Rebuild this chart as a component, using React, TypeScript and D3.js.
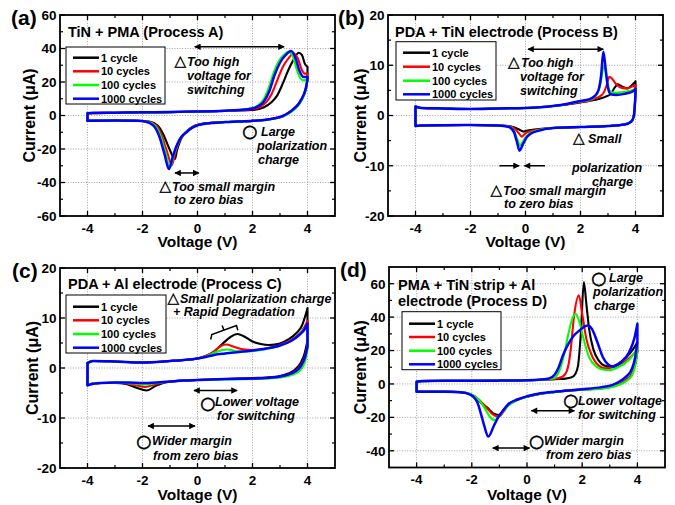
import React from "react";
import * as d3 from "d3";

type Pt = [number, number];

// Legend entries and trace colours (shared by all four panels)
const cycleLabels = ["1 cycle", "10 cycles", "100 cycles", "1000 cycles"];
const cycleColors = ["#000000", "#ff0000", "#00ff00", "#0000ff"];

// Axis ticks
const voltTicks = [-4, -2, 0, 2, 4];
const voltMinor = [-3, -1, 1, 3];
const currTicksA = [-60, -40, -20, 0, 20, 40, 60];
const currMinorA = [-50, -30, -10, 10, 30, 50];
const currTicksB = [-20, -10, 0, 10, 20];
const currMinorB = [-15, -5, 5, 15];
const currTicksD = [-40, -20, 0, 20, 40, 60];
const currMinorD = [-30, -10, 10, 30, 50];

// Each loop: forward sweep -4 V -> 4 V, then reverse sweep 4 V -> -4 V  (V, µA)
// (a) TiN + PMA
const procA_1: Pt[] = [
  [-4, 1.2], [-3.8, 1.4], [-3, 1.6], [-2, 1.8], [-1, 2.0], [0, 2.3], [1, 2.7], [1.5, 3.0], [2, 3.3], [2.4, 4.8], [2.7, 8], [2.9, 12], [3.1, 19], [3.3, 27], [3.5, 33.5], [3.68, 37.5], [3.8, 36], [3.9, 31], [4, 29],
  [4, 21], [3.95, 16.5], [3.85, 11.5], [3.7, 7], [3.5, 3.8], [3.3, 1.4], [3.1, -0.4], [2.9, -1.4], [2.5, -2.5], [2, -3.2], [1.5, -3.6], [1, -3.9], [0.5, -4.4], [0, -5.6], [-0.2, -7], [-0.4, -9.5], [-0.55, -12.5], [-0.65, -16], [-0.75, -21], [-0.82, -26], [-1.02, -20], [-1.25, -11], [-1.45, -6], [-1.75, -3.6], [-2.2, -3.1], [-3, -3.0], [-3.8, -3.0], [-4, -3.1],
];
const procA_10: Pt[] = [
  [-4, 1.2], [-3.8, 1.4], [-3, 1.6], [-2, 1.8], [-1, 2.0], [0, 2.3], [1, 2.8], [1.5, 3.2], [2, 3.8], [2.3, 5.5], [2.5, 8], [2.7, 13], [2.9, 21], [3.1, 29], [3.3, 34], [3.5, 37], [3.65, 34], [3.8, 27], [3.9, 25], [4, 25],
  [4, 22], [3.95, 17], [3.85, 12], [3.7, 7.5], [3.5, 4], [3.3, 1.5], [3.1, -0.3], [2.9, -1.3], [2.5, -2.5], [2, -3.2], [1.5, -3.6], [1, -3.9], [0.5, -4.4], [0, -5.7], [-0.2, -7.2], [-0.4, -9.7], [-0.58, -13], [-0.7, -17], [-0.82, -23], [-0.93, -29.5], [-1.1, -22], [-1.3, -12], [-1.5, -6], [-1.8, -3.6], [-2.2, -3.1], [-3, -3.0], [-3.8, -3.0], [-4, -3.1],
];
const procA_100: Pt[] = [
  [-4, 1.3], [-3.8, 1.5], [-3, 1.6], [-2, 1.8], [-1, 2.0], [0, 2.3], [1, 2.8], [1.5, 3.3], [2, 4.5], [2.2, 6], [2.4, 9.5], [2.6, 17], [2.8, 27], [3.0, 33.5], [3.2, 37], [3.3, 38], [3.45, 36], [3.6, 28], [3.75, 22], [3.85, 21], [4, 21.5],
  [4, 21], [3.95, 17], [3.87, 12], [3.73, 7.5], [3.55, 4], [3.35, 1.5], [3.15, -0.3], [2.95, -1.3], [2.5, -2.6], [2, -3.3], [1.5, -3.7], [1, -4.0], [0.5, -4.5], [0, -5.8], [-0.2, -7.3], [-0.4, -9.8], [-0.6, -13], [-0.73, -17.5], [-0.87, -24], [-1.0, -31], [-1.15, -23], [-1.35, -12], [-1.55, -6], [-1.85, -3.6], [-2.2, -3.1], [-3, -3.0], [-3.8, -3.0], [-4, -3.1],
];
const procA_1000: Pt[] = [
  [-4, 1.4], [-3.8, 1.6], [-3, 1.7], [-2, 1.9], [-1, 2.1], [0, 2.4], [1, 2.9], [1.5, 3.3], [2, 4.2], [2.2, 5.5], [2.4, 8], [2.6, 14], [2.8, 24], [3.0, 31.5], [3.2, 36], [3.4, 38.5], [3.55, 35], [3.7, 27], [3.85, 23], [4, 23],
  [4, 22], [3.95, 17], [3.85, 12], [3.7, 7.5], [3.5, 4], [3.3, 1.5], [3.1, -0.3], [2.9, -1.3], [2.5, -2.5], [2, -3.2], [1.5, -3.6], [1, -3.9], [0.5, -4.5], [0, -5.9], [-0.2, -7.4], [-0.4, -10], [-0.62, -13.5], [-0.76, -18], [-0.9, -24.5], [-1.04, -32], [-1.2, -23], [-1.4, -12], [-1.6, -6], [-1.9, -3.6], [-2.2, -3.1], [-3, -3.0], [-3.8, -3.1], [-4, -3.2],
];

// (b) PDA + TiN electrode
const procB_1: Pt[] = [
  [-4, 1.8], [-3.8, 1.5], [-3, 1.4], [-2, 1.3], [-1, 1.4], [0, 1.5], [1, 1.9], [1.5, 2.2], [2, 2.6], [2.3, 2.9], [2.6, 3.2], [2.9, 3.7], [3.1, 4.3], [3.25, 5.6], [3.35, 6.2], [3.5, 5.8], [3.7, 5.4], [3.9, 6.2], [4, 6.8],
  [4, 4.5], [3.97, 1.5], [3.93, -0.3], [3.85, -1.2], [3.6, -1.8], [3, -2.1], [2, -2.3], [1, -2.5], [0.5, -2.7], [0.2, -2.9], [0, -3.1], [-0.07, -3.2], [-0.2, -2.9], [-0.4, -2.4], [-0.6, -2.1], [-1, -2.0], [-2, -1.9], [-3, -1.95], [-3.8, -2.0], [-4, -2.1],
];
const procB_10: Pt[] = [
  [-4, 1.8], [-3.8, 1.5], [-3, 1.4], [-2, 1.3], [-1, 1.4], [0, 1.5], [1, 1.9], [1.5, 2.2], [2, 2.7], [2.3, 2.9], [2.5, 3.3], [2.7, 3.8], [2.85, 4.6], [2.95, 6], [3.05, 7.7], [3.15, 7.3], [3.3, 6.2], [3.5, 5.5], [3.7, 5.4], [3.9, 5.8], [4, 6.0],
  [4, 4.5], [3.97, 1.5], [3.93, -0.3], [3.85, -1.2], [3.6, -1.8], [3, -2.1], [2, -2.3], [1, -2.5], [0.5, -2.8], [0.2, -3.1], [0, -3.5], [-0.13, -4.2], [-0.25, -3.5], [-0.4, -2.6], [-0.6, -2.15], [-1, -2.0], [-2, -1.9], [-3, -1.95], [-3.8, -2.0], [-4, -2.1],
];
const procB_100: Pt[] = [
  [-4, 1.8], [-3.8, 1.5], [-3, 1.4], [-2, 1.3], [-1, 1.4], [0, 1.5], [1, 1.9], [1.5, 2.3], [2, 2.8], [2.3, 3.1], [2.5, 3.6], [2.65, 4.8], [2.75, 7], [2.85, 10], [2.95, 7.5], [3.05, 5], [3.2, 4.5], [3.5, 4.6], [3.8, 4.9], [4, 5.3],
  [4, 4.5], [3.97, 1.5], [3.93, -0.3], [3.85, -1.2], [3.6, -1.8], [3, -2.1], [2, -2.3], [1, -2.5], [0.5, -2.9], [0.2, -3.4], [0.05, -4.0], [-0.1, -5.2], [-0.2, -6.0], [-0.3, -4.7], [-0.42, -3.0], [-0.6, -2.2], [-1, -2.0], [-2, -1.9], [-3, -1.95], [-3.8, -2.0], [-4, -2.1],
];
const procB_1000: Pt[] = [
  [-4, 1.8], [-3.8, 1.5], [-3, 1.4], [-2, 1.3], [-1, 1.4], [0, 1.5], [1, 1.9], [1.5, 2.3], [2, 2.9], [2.3, 3.2], [2.5, 3.8], [2.65, 5], [2.75, 8], [2.83, 12.7], [2.92, 9], [3.0, 5.5], [3.1, 4.2], [3.3, 4.1], [3.6, 4.3], [3.9, 4.8], [4, 5.3],
  [4, 4.5], [3.97, 1.5], [3.93, -0.3], [3.85, -1.2], [3.6, -1.8], [3, -2.1], [2, -2.3], [1, -2.5], [0.5, -3.0], [0.2, -3.6], [0.05, -4.3], [-0.1, -5.8], [-0.22, -7.0], [-0.3, -5.5], [-0.42, -3.3], [-0.6, -2.3], [-1, -2.0], [-2, -1.9], [-3, -1.95], [-3.8, -2.0], [-4, -2.1],
];

// (c) PDA + Al electrode
const procC_1: Pt[] = [
  [-4, 1.0], [-3.8, 1.4], [-3, 1.3], [-2, 1.1], [-1, 1.4], [-0.5, 1.6], [0, 1.9], [0.3, 2.4], [0.6, 3.3], [0.9, 4.8], [1.2, 6.2], [1.45, 6.8], [1.7, 6.3], [2.0, 5.3], [2.3, 4.8], [2.6, 4.6], [3.0, 4.9], [3.3, 5.7], [3.6, 7.0], [3.8, 8.5], [3.95, 11], [4, 12],
  [4, 5.5], [3.9, 3], [3.75, 1], [3.55, -0.3], [3.3, -1.1], [3, -1.6], [2.5, -1.9], [2, -2.0], [1, -2.2], [0, -2.4], [-0.5, -2.5], [-1, -2.7], [-1.5, -3.5], [-1.85, -4.5], [-2.2, -4.0], [-2.6, -3.2], [-3, -3.0], [-3.5, -3.0], [-3.9, -3.2], [-4, -3.4],
];
const procC_10: Pt[] = [
  [-4, 1.0], [-3.8, 1.4], [-3, 1.3], [-2, 1.1], [-1, 1.4], [-0.5, 1.6], [0, 1.9], [0.3, 2.4], [0.6, 3.3], [0.85, 4.4], [1.05, 4.7], [1.3, 4.3], [1.6, 3.8], [2.0, 3.6], [2.5, 3.9], [3.0, 4.6], [3.4, 5.6], [3.7, 6.8], [3.9, 8.3], [4, 9.4],
  [4, 4.5], [3.9, 2.2], [3.75, 0.5], [3.55, -0.6], [3.3, -1.3], [3, -1.7], [2.5, -2.0], [2, -2.1], [1, -2.2], [0, -2.4], [-0.5, -2.5], [-1, -2.7], [-1.5, -3.2], [-1.9, -3.8], [-2.3, -3.4], [-2.7, -3.0], [-3, -2.9], [-3.5, -3.0], [-3.9, -3.2], [-4, -3.4],
];
const procC_100: Pt[] = [
  [-4, 1.0], [-3.8, 1.4], [-3, 1.3], [-2, 1.1], [-1, 1.4], [-0.5, 1.6], [0, 1.9], [0.3, 2.3], [0.6, 3.0], [0.9, 3.6], [1.1, 3.7], [1.4, 3.4], [1.8, 3.3], [2.2, 3.5], [2.7, 4.0], [3.2, 4.9], [3.6, 6.2], [3.85, 7.6], [4, 8.6],
  [4, 3.8], [3.92, 1.5], [3.8, 0], [3.6, -1.0], [3.3, -1.6], [3, -1.9], [2.5, -2.1], [2, -2.2], [1, -2.3], [0, -2.4], [-0.5, -2.5], [-1, -2.7], [-1.5, -3.0], [-1.9, -3.3], [-2.3, -3.1], [-2.8, -2.9], [-3.5, -3.0], [-3.9, -3.2], [-4, -3.4],
];
const procC_1000: Pt[] = [
  [-4, 1.0], [-3.8, 1.4], [-3, 1.3], [-2, 1.1], [-1, 1.4], [-0.5, 1.6], [0, 1.9], [0.3, 2.2], [0.6, 2.6], [1, 2.9], [1.5, 3.2], [2, 3.5], [2.5, 3.9], [3, 4.5], [3.4, 5.4], [3.7, 6.6], [3.9, 7.8], [4, 8.9],
  [4, 4.2], [3.9, 2.0], [3.75, 0.3], [3.55, -0.7], [3.3, -1.3], [3, -1.7], [2.5, -2.0], [2, -2.1], [1, -2.2], [0, -2.4], [-0.5, -2.5], [-1, -2.7], [-1.5, -2.9], [-2, -3.0], [-2.5, -2.9], [-3, -2.9], [-3.5, -3.0], [-3.9, -3.3], [-4, -3.5],
];

// (d) PMA + TiN strip + Al electrode
const procD_1: Pt[] = [
  [-4, 1.3], [-3.8, 1.7], [-3, 1.9], [-2, 1.9], [-1, 2.0], [0, 2.2], [0.5, 2.5], [1, 2.9], [1.4, 3.2], [1.6, 3.8], [1.75, 6], [1.85, 11], [1.95, 30], [2.06, 61], [2.15, 48], [2.25, 33], [2.4, 21], [2.6, 14], [2.8, 11], [3.0, 10.3], [3.3, 12], [3.6, 16], [3.85, 21], [4, 25],
  [4, 20], [3.92, 12], [3.8, 6], [3.6, 2.5], [3.35, 0], [3.1, -1.5], [2.7, -2.6], [2, -3.4], [1, -4.8], [0.5, -5.8], [0, -7.6], [-0.35, -9.5], [-0.67, -12.5], [-0.85, -16], [-0.97, -18.6], [-1.2, -17.8], [-1.45, -14], [-1.65, -11.5], [-1.85, -8.5], [-2.05, -6.3], [-2.4, -5], [-3, -4.6], [-4, -4.6],
];
const procD_10: Pt[] = [
  [-4, 1.3], [-3.8, 1.7], [-3, 1.9], [-2, 1.9], [-1, 2.0], [0, 2.2], [0.5, 2.5], [1, 2.9], [1.1, 3.3], [1.3, 4.5], [1.45, 8], [1.58, 20], [1.7, 40], [1.88, 53], [2.0, 42], [2.15, 27], [2.35, 17], [2.6, 11], [2.85, 9.3], [3.2, 10.5], [3.6, 14], [3.9, 18.5], [4, 20],
  [4, 19], [3.92, 12], [3.8, 6], [3.6, 2.5], [3.35, 0], [3.1, -1.5], [2.7, -2.6], [2, -3.4], [1, -4.8], [0.5, -5.8], [0, -7.6], [-0.35, -9.5], [-0.67, -12.5], [-0.85, -16.5], [-1.03, -19.6], [-1.25, -18], [-1.5, -13.5], [-1.7, -10], [-1.9, -7.3], [-2.1, -5.8], [-2.4, -5], [-3, -4.6], [-4, -4.6],
];
const procD_100: Pt[] = [
  [-4, 1.3], [-3.8, 1.7], [-3, 1.9], [-2, 1.9], [-1, 2.0], [0, 2.2], [0.5, 2.5], [0.8, 2.9], [1.0, 3.5], [1.1, 5.5], [1.2, 9], [1.35, 18], [1.5, 30], [1.62, 38], [1.76, 42], [1.9, 37], [2.05, 27], [2.25, 16], [2.5, 10.5], [2.8, 8.5], [3.0, 8.3], [3.3, 10], [3.7, 14.5], [4, 21],
  [4, 20], [3.92, 11], [3.8, 5], [3.6, 1.8], [3.35, -0.5], [3.1, -1.8], [2.7, -2.8], [2, -3.5], [1, -4.9], [0.5, -5.9], [0, -7.7], [-0.35, -9.7], [-0.67, -12.8], [-0.9, -17], [-1.18, -21.6], [-1.35, -19.5], [-1.55, -14], [-1.75, -9.5], [-1.95, -6.8], [-2.2, -5.3], [-2.5, -4.8], [-3, -4.6], [-4, -4.7],
];
const procD_1000: Pt[] = [
  [-4, 1.3], [-3.8, 1.7], [-3, 1.9], [-2, 1.9], [-1, 2.0], [0, 2.2], [0.5, 2.6], [0.8, 3.3], [1.0, 5.5], [1.15, 10], [1.3, 17], [1.5, 24], [1.7, 29], [1.9, 32], [2.05, 34], [2.2, 35], [2.35, 33], [2.55, 25], [2.75, 16], [2.95, 11.5], [3.1, 10.5], [3.4, 13], [3.7, 19], [3.9, 28], [4, 36],
  [4, 26], [3.92, 16], [3.8, 9], [3.6, 4.5], [3.35, 1.5], [3.1, -0.5], [2.7, -1.9], [2, -3.2], [1, -4.6], [0.5, -5.6], [0, -7.4], [-0.35, -9.3], [-0.67, -12], [-0.85, -15.5], [-1.03, -19.5], [-1.2, -25], [-1.4, -31.5], [-1.55, -25], [-1.65, -19], [-1.8, -11], [-1.95, -7.5], [-2.2, -5.5], [-2.5, -4.8], [-3, -4.6], [-4, -4.7],
];

const FONT = "Arial, 'Liberation Sans', Helvetica, sans-serif";
const SYM = "'DejaVu Sans', sans-serif";

type Scale = d3.ScaleLinear<number, number>;

function loopPath(pts: Pt[], x: Scale, y: Scale): string {
  const k = pts.findIndex((p) => p[0] >= 4);
  const fwd = pts.slice(0, k + 1);
  const rev = pts.slice(k + 1).reverse();
  const line = d3
    .line<Pt>()
    .x((d) => x(d[0]))
    .y((d) => y(d[1]))
    .curve(d3.curveMonotoneX);
  const fEnd = fwd[fwd.length - 1];
  const rEnd = rev[rev.length - 1];
  return (
    (line(fwd) || "") +
    (line(rev) || "") +
    `M${x(fEnd[0])},${y(fEnd[1])}L${x(rEnd[0])},${y(rEnd[1])}` +
    `M${x(rev[0][0])},${y(rev[0][1])}L${x(fwd[0][0])},${y(fwd[0][1])}`
  );
}

interface LegendBox {
  x: number;
  y: number;
  w: number;
  h: number;
  rows: number[];
  x0: number;
  x1: number;
  tx: number;
}

interface PanelProps {
  tag: string;
  tagX: number;
  tagY: number;
  left: number;
  right: number;
  top: number;
  bottom: number;
  yDomain: [number, number];
  yTicks: number[];
  yMinor: number[];
  loops: Pt[][];
  yLabelX: number;
  xLabelY: number;
  legend: LegendBox;
  notes: (x: Scale, y: Scale) => React.ReactNode;
}

function Panel(p: PanelProps) {
  const x = d3.scaleLinear().domain([-5, 5]).range([p.left, p.right]);
  const y = d3.scaleLinear().domain(p.yDomain).range([p.bottom, p.top]);
  const gridX = voltTicks;
  const gridY = p.yTicks.filter((t) => t > p.yDomain[0] && t < p.yDomain[1]);
  const cx = (p.left + p.right) / 2;
  const cy = (p.top + p.bottom) / 2;
  const major = 5;
  const minor = 3;
  return (
    <g>
      {/* dotted grid */}
      {gridX.map((t) => (
        <line key={"gx" + t} x1={x(t)} x2={x(t)} y1={p.top} y2={p.bottom} stroke="#8a8a8a" strokeWidth={0.8} strokeDasharray="1,1.6" />
      ))}
      {gridY.map((t) => (
        <line key={"gy" + t} x1={p.left} x2={p.right} y1={y(t)} y2={y(t)} stroke="#8a8a8a" strokeWidth={0.8} strokeDasharray="1,1.6" />
      ))}
      {/* traces */}
      {p.loops.map((pts, i) => (
        <path
          key={"c" + i}
          d={loopPath(pts, x, y)}
          fill="none"
          stroke={cycleColors[i]}
          strokeWidth={i === 3 ? 2.5 : 2.1}
          strokeLinejoin="round"
          strokeLinecap="round"
        />
      ))}
      {/* legend */}
      <rect x={p.legend.x} y={p.legend.y} width={p.legend.w} height={p.legend.h} fill="#fff" stroke="#000" strokeWidth={1} />
      {cycleLabels.map((lab, i) => (
        <g key={"l" + i}>
          <line x1={p.legend.x0} x2={p.legend.x1} y1={p.legend.rows[i]} y2={p.legend.rows[i]} stroke={cycleColors[i]} strokeWidth={2.5} />
          <text x={p.legend.tx} y={p.legend.rows[i] + 4} fontFamily={FONT} fontWeight="bold" fontSize={11} fill="#000">
            {lab}
          </text>
        </g>
      ))}
      {p.notes(x, y)}
      {/* frame and ticks */}
      <rect x={p.left} y={p.top} width={p.right - p.left} height={p.bottom - p.top} fill="none" stroke="#000" strokeWidth={1.8} />
      {voltTicks.map((t) => (
        <g key={"xt" + t}>
          <line x1={x(t)} x2={x(t)} y1={p.bottom} y2={p.bottom - major} stroke="#000" strokeWidth={1.3} />
          <line x1={x(t)} x2={x(t)} y1={p.top} y2={p.top + major} stroke="#000" strokeWidth={1.3} />
          <text x={x(t)} y={p.bottom + 16.5} textAnchor="middle" fontFamily={FONT} fontWeight="bold" fontSize={13.5}>
            {t}
          </text>
        </g>
      ))}
      {voltMinor.map((t) => (
        <g key={"xm" + t}>
          <line x1={x(t)} x2={x(t)} y1={p.bottom} y2={p.bottom - minor} stroke="#000" strokeWidth={1.2} />
          <line x1={x(t)} x2={x(t)} y1={p.top} y2={p.top + minor} stroke="#000" strokeWidth={1.2} />
        </g>
      ))}
      {p.yTicks.map((t) => (
        <g key={"yt" + t}>
          <line x1={p.left} x2={p.left + major} y1={y(t)} y2={y(t)} stroke="#000" strokeWidth={1.3} />
          <line x1={p.right} x2={p.right - major} y1={y(t)} y2={y(t)} stroke="#000" strokeWidth={1.3} />
          <text x={p.left - 3.5} y={y(t) + 4.8} textAnchor="end" fontFamily={FONT} fontWeight="bold" fontSize={13.5}>
            {t}
          </text>
        </g>
      ))}
      {p.yMinor.map((t) => (
        <g key={"ym" + t}>
          <line x1={p.left} x2={p.left + minor} y1={y(t)} y2={y(t)} stroke="#000" strokeWidth={1.2} />
          <line x1={p.right} x2={p.right - minor} y1={y(t)} y2={y(t)} stroke="#000" strokeWidth={1.2} />
        </g>
      ))}
      {/* axis titles */}
      <text x={cx} y={p.xLabelY} textAnchor="middle" fontFamily={FONT} fontWeight="bold" fontSize={15.5}>
        Voltage (V)
      </text>
      <text
        transform={`translate(${p.yLabelX},${cy}) rotate(-90)`}
        textAnchor="middle"
        fontFamily={FONT}
        fontWeight="bold"
        fontSize={16}
      >
        Current (μA)
      </text>
      <text x={p.tagX} y={p.tagY} fontFamily={FONT} fontWeight="bold" fontSize={21}>
        {p.tag}
      </text>
    </g>
  );
}

function Note({ x, y, children }: { x: number; y: number; children: React.ReactNode }) {
  return (
    <text x={x} y={y} fontFamily={FONT} fontWeight="bold" fontStyle="italic" fontSize={12.5} fill="#000">
      {children}
    </text>
  );
}

function Tri({ x, y }: { x: number; y: number }) {
  return (
    <text x={x} y={y} fontFamily={SYM} fontSize={15} fill="#000" stroke="#000" strokeWidth={0.4}>
      △
    </text>
  );
}

function Circ({ x, y }: { x: number; y: number }) {
  return (
    <text x={x} y={y + 6.1} textAnchor="middle" fontFamily={SYM} fontSize={17.5} fill="#000" stroke="#000" strokeWidth={0.6}>
      ○
    </text>
  );
}

function Arrow({ x, y, v0, v1, i, both = true }: { x: Scale; y: Scale; v0: number; v1: number; i: number; both?: boolean }) {
  return (
    <line
      x1={x(v0)}
      x2={x(v1)}
      y1={y(i)}
      y2={y(i)}
      stroke="#000"
      strokeWidth={1.5}
      markerEnd="url(#head)"
      markerStart={both ? "url(#head)" : undefined}
    />
  );
}

function Title({ x, y, children }: { x: number; y: number; children: React.ReactNode }) {
  return (
    <text x={x} y={y} fontFamily={FONT} fontWeight="bold" fontSize={14.5} fill="#000">
      {children}
    </text>
  );
}

export default function App() {
  return (
    <svg width={675} height={505} viewBox="0 0 675 505" style={{ position: "absolute", left: 0, top: 0, background: "#fff" }}>
      <defs>
        <marker id="head" viewBox="0 0 10 10" refX={9} refY={5} markerWidth={7} markerHeight={6.5} markerUnits="userSpaceOnUse" orient="auto-start-reverse">
          <path d="M0,0 L10,5 L0,10 z" fill="#000" />
        </marker>
      </defs>
      <rect x={0} y={0} width={675} height={505} fill="#fff" />

      <Panel
        tag="(a)"
        tagX={11}
        tagY={25}
        left={60}
        right={335}
        top={15}
        bottom={216}
        yDomain={[-60, 60]}
        yTicks={currTicksA}
        yMinor={currMinorA}
        loops={[procA_1, procA_10, procA_100, procA_1000]}
        yLabelX={35}
        xLabelY={247}
        legend={{ x: 66, y: 47, w: 99, h: 57, rows: [57.7, 71.3, 85, 98.7], x0: 73, x1: 99, tx: 101 }}
        notes={(x, y) => (
          <g>
            <Title x={68} y={36.5}>TiN + PMA (Process A)</Title>
            <Arrow x={x} y={y} v0={-0.1} v1={3.15} i={41} />
            <Tri x={174.5} y={66} />
            <Note x={187} y={66}>Too high</Note>
            <Note x={187} y={80}>voltage for</Note>
            <Note x={187} y={94}>switching</Note>
            <Circ x={250} y={131} />
            <Note x={261} y={136}>Large</Note>
            <Note x={257} y={150}>polarization</Note>
            <Note x={258} y={164}>charge</Note>
            <Arrow x={x} y={y} v0={-0.82} v1={0.05} i={-34.3} />
            <Tri x={159.5} y={191} />
            <Note x={172} y={191}>Too small  margin</Note>
            <Note x={174} y={204}>to zero bias</Note>
          </g>
        )}
      />

      <Panel
        tag="(b)"
        tagX={338}
        tagY={25}
        left={388}
        right={663}
        top={15}
        bottom={216}
        yDomain={[-20, 20]}
        yTicks={currTicksB}
        yMinor={currMinorB}
        loops={[procB_1, procB_10, procB_100, procB_1000]}
        yLabelX={366}
        xLabelY={247}
        legend={{ x: 396, y: 41.7, w: 100, h: 58.3, rows: [52.7, 66.7, 80.7, 94.3], x0: 403, x1: 430, tx: 432 }}
        notes={(x, y) => (
          <g>
            <Title x={395} y={36.5}>PDA + TiN electrode (Process B)</Title>
            <Arrow x={x} y={y} v0={0.09} v1={2.83} i={13.2} />
            <Tri x={508} y={67} />
            <Note x={521} y={67}>Too high</Note>
            <Note x={520} y={81}>voltage for</Note>
            <Note x={520} y={95}>switching</Note>
            <Tri x={573} y={143} />
            <Note x={588} y={143}>Small</Note>
            <Note x={572} y={172}>polarization</Note>
            <Note x={592} y={186}>charge</Note>
            <Arrow x={x} y={y} v0={-0.95} v1={-0.23} i={-10} both={false} />
            <Arrow x={x} y={y} v0={0.71} v1={-0.04} i={-10} both={false} />
            <Tri x={490.5} y={195} />
            <Note x={503} y={195}>Too small  margin</Note>
            <Note x={504} y={208}>to zero bias</Note>
          </g>
        )}
      />

      <Panel
        tag="(c)"
        tagX={12}
        tagY={278}
        left={60}
        right={335}
        top={268}
        bottom={468}
        yDomain={[-20, 20]}
        yTicks={currTicksB}
        yMinor={currMinorB}
        loops={[procC_1, procC_10, procC_100, procC_1000]}
        yLabelX={38}
        xLabelY={500}
        legend={{ x: 66, y: 295, w: 100, h: 58, rows: [306.7, 320.3, 334, 347.7], x0: 73, x1: 99, tx: 101 }}
        notes={(x, y) => (
          <g>
            <Title x={68} y={289}>PDA + Al electrode (Process C)</Title>
            <Tri x={167.5} y={302.5} />
            <Note x={180} y={302.5}>Small polarization charge</Note>
            <Note x={173} y={316}>+ Rapid Degradation</Note>
            <path
              d="M210.7,339.5 L211.8,334.5 L236.5,325.5 L237.8,330.2 M223.8,330 L222.2,325.6"
              fill="none"
              stroke="#000"
              strokeWidth={1.5}
            />
            <Arrow x={x} y={y} v0={-0.13} v1={1.44} i={-4.5} />
            <Circ x={208} y={402.5} />
            <Note x={215} y={406}>Lower voltage</Note>
            <Note x={217} y={420}>for switching</Note>
            <Arrow x={x} y={y} v0={-1.8} v1={-0.09} i={-11.6} />
            <Circ x={144} y={441} />
            <Note x={152} y={445}>Wider margin</Note>
            <Note x={153} y={460}>from zero bias</Note>
          </g>
        )}
      />

      <Panel
        tag="(d)"
        tagX={340}
        tagY={277}
        left={389}
        right={665}
        top={267}
        bottom={467.5}
        yDomain={[-50, 70]}
        yTicks={currTicksD}
        yMinor={currMinorD}
        loops={[procD_1, procD_10, procD_100, procD_1000]}
        yLabelX={366}
        xLabelY={500}
        legend={{ x: 402, y: 311.7, w: 99, h: 58, rows: [323.7, 337, 350.7, 364.3], x0: 409, x1: 435, tx: 437 }}
        notes={(x, y) => (
          <g>
            <Title x={398} y={289.5}>PMA + TiN strip + Al</Title>
            <Title x={398} y={306}>electrode (Process D)</Title>
            <Circ x={599} y={277.7} />
            <Note x={609} y={281.5}>Large</Note>
            <Note x={593} y={296}>polarization</Note>
            <Note x={594} y={310}>charge</Note>
            <Circ x={571} y={400.3} />
            <Note x={578} y={405}>Lower voltage</Note>
            <Note x={578} y={419}>for switching</Note>
            <Arrow x={x} y={y} v0={0.16} v1={1.72} i={-16} />
            <Circ x={536.7} y={440.7} />
            <Note x={544} y={445}>Wider margin</Note>
            <Note x={546} y={459}>from zero bias</Note>
            <Arrow x={x} y={y} v0={-1.24} v1={0.09} i={-38.4} />
          </g>
        )}
      />
    </svg>
  );
}
